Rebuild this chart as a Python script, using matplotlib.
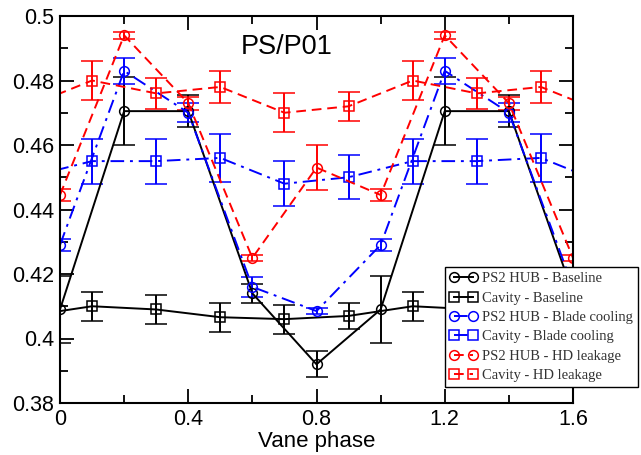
import matplotlib
matplotlib.use("Agg")
import matplotlib.pyplot as plt
import numpy as np

# ---- data ----
# PS2 HUB points (vane phase 0..1.6 step 0.2)
hub_x = [0.0, 0.2, 0.4, 0.6, 0.8, 1.0, 1.2, 1.4, 1.6]
hub_base = [0.409, 0.4705, 0.4705, 0.414, 0.392, 0.409, 0.4705, 0.4705, 0.414]
hub_base_err = [0.0105, 0.0105, 0.005, 0.003, 0.004, 0.0105, 0.0105, 0.005, 0.003]
hub_cool = [0.429, 0.483, 0.470, 0.416, 0.4085, 0.429, 0.483, 0.470, 0.416]
hub_cool_err = [0.002, 0.004, 0.003, 0.003, 0.001, 0.002, 0.004, 0.003, 0.003]
hub_leak = [0.4445, 0.494, 0.473, 0.425, 0.453, 0.4445, 0.494, 0.473, 0.425]
hub_leak_err = [0.002, 0.001, 0.002, 0.001, 0.007, 0.002, 0.001, 0.002, 0.001]

# Cavity points (vane phase -0.1..1.7 step 0.2, ends clipped by axes)
cav_x = [-0.1, 0.1, 0.3, 0.5, 0.7, 0.9, 1.1, 1.3, 1.5, 1.7]
cav_base = [0.407, 0.410, 0.409, 0.4066, 0.406, 0.407, 0.410, 0.409, 0.4066, 0.406]
cav_base_err = [0.004, 0.0045, 0.0045, 0.0045, 0.0045, 0.004, 0.0045, 0.0045, 0.0045, 0.0045]
cav_cool = [0.450, 0.455, 0.455, 0.456, 0.448, 0.450, 0.455, 0.455, 0.456, 0.448]
cav_cool_err = [0.0068, 0.007, 0.007, 0.0075, 0.007, 0.0068, 0.007, 0.007, 0.0075, 0.007]
cav_leak = [0.472, 0.480, 0.476, 0.478, 0.470, 0.472, 0.480, 0.476, 0.478, 0.470]
cav_leak_err = [0.0045, 0.006, 0.0047, 0.005, 0.006, 0.0045, 0.006, 0.0047, 0.005, 0.006]

labels = ["PS2 HUB - Baseline", "Cavity - Baseline",
          "PS2 HUB - Blade cooling", "Cavity - Blade cooling",
          "PS2 HUB - HD leakage", "Cavity - HD leakage"]

plt.rcParams['font.family'] = ['Liberation Sans', 'DejaVu Sans']

fig = plt.figure(figsize=(6.41, 4.55), dpi=100)
ax = fig.add_axes([60/641, 1-403/455, (573-60)/641, (403-16)/455])

series = [
    (hub_x, hub_base, hub_base_err, 'black', '-', 'o'),
    (cav_x, cav_base, cav_base_err, 'black', '-', 's'),
    (hub_x, hub_cool, hub_cool_err, '#0000ff', (0, (7, 3, 1.5, 3)), 'o'),
    (cav_x, cav_cool, cav_cool_err, '#0000ff', (0, (7, 3, 1.5, 3)), 's'),
    (hub_x, hub_leak, hub_leak_err, '#ff0000', (0, (5, 3)), 'o'),
    (cav_x, cav_leak, cav_leak_err, '#ff0000', (0, (5, 3)), 's'),
]
handles = []
for (x, y, e, c, ls, m), lab in zip(series, labels):
    ms = 7 if m == 'o' else 6.5
    eb = ax.errorbar(x, y, yerr=e, color=c, ls=ls, lw=1.4, marker=m, ms=ms,
                     mfc='none', mec=c, mew=1.1, capsize=8, capthick=1.4,
                     elinewidth=1.4, label=lab)
    eb[-1][0].set_linestyle('-')
    handles.append(eb[0])

ax.set_xlim(0, 1.6)
ax.set_ylim(0.38, 0.5)
ax.set_xticks([0, 0.4, 0.8, 1.2, 1.6])
ax.set_xticklabels(['0', '0.4', '0.8', '1.2', '1.6'])
ax.set_xticks(np.arange(0, 1.61, 0.2), minor=True)
ax.set_yticks([0.38, 0.40, 0.42, 0.44, 0.46, 0.48, 0.50])
ax.set_yticklabels(['0.38', '0.4', '0.42', '0.44', '0.46', '0.48', '0.5'])
ax.set_yticks(np.arange(0.38, 0.501, 0.01), minor=True)
ax.tick_params(which='both', direction='in', top=True, right=True,
               labelsize=15.5, width=1.3, pad=4)
ax.tick_params(which='major', length=10)
ax.tick_params(which='minor', length=6)
for s in ax.spines.values():
    s.set_linewidth(1.5)

ax.set_xlabel('Vane phase', fontsize=16, labelpad=1)
ax.text(0.708, 0.4905, 'PS/P01', fontsize=19.5, ha='center', va='center')

leg = ax.legend(handles, labels, loc='upper left',
                bbox_to_anchor=(445/641, 1-267/455), bbox_transform=fig.transFigure,
                borderaxespad=0, numpoints=2, handlelength=1.9, handletextpad=0.3,
                labelspacing=0.42, borderpad=0.35, fancybox=False,
                prop={'family': 'Liberation Serif', 'size': 10.5},
                markerscale=1.0)
leg.get_frame().set_edgecolor('black')
leg.get_frame().set_linewidth(1.0)
leg.get_frame().set_alpha(1)
for t in leg.get_texts():
    t.set_color('#333333')

fig.savefig('out.png', dpi=100)
